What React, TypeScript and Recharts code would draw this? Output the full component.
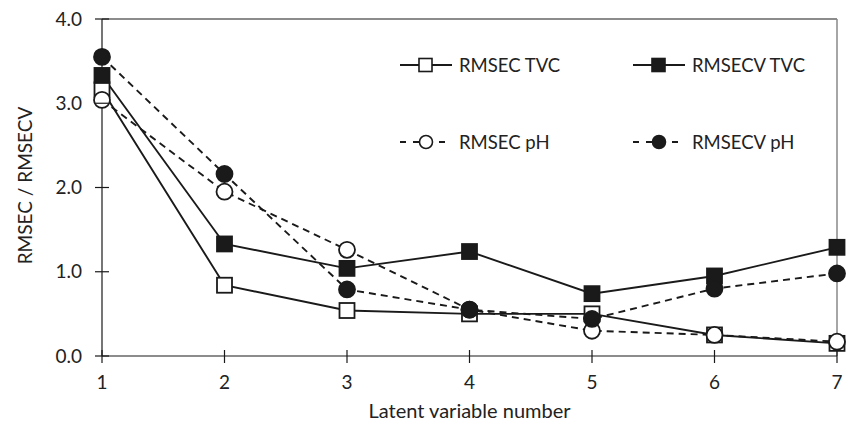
import React from 'react';
import { LineChart, Line, XAxis, YAxis, ReferenceLine } from 'recharts';

const latentVariables = [1, 2, 3, 4, 5, 6, 7];
const rmsecTVC = [3.16, 0.84, 0.54, 0.5, 0.5, 0.25, 0.15];
const rmsecvTVC = [3.33, 1.33, 1.04, 1.24, 0.74, 0.95, 1.29];
const rmsecPH = [3.04, 1.95, 1.26, 0.55, 0.3, 0.25, 0.17];
const rmsecvPH = [3.55, 2.16, 0.79, 0.55, 0.44, 0.8, 0.98];
const yTicks = [0, 1, 2, 3, 4];

const data = latentVariables.map((lv, i) => ({
  lv,
  rmsecTVC: rmsecTVC[i],
  rmsecvTVC: rmsecvTVC[i],
  rmsecPH: rmsecPH[i],
  rmsecvPH: rmsecvPH[i],
}));

const FONT = 'Lato, "Open Sans", sans-serif';
const INK = '#1a1a1a';
const TXT = '#222';

const SquareDot = (filled: boolean) => (props: any) => {
  const { cx, cy } = props;
  if (cx == null || cy == null) return null;
  const s = 15;
  return (
    <rect x={cx - s / 2} y={cy - s / 2} width={s} height={s}
      fill={filled ? INK : '#fff'} stroke={INK} strokeWidth={1.8} />
  );
};

const CircleDot = (filled: boolean) => (props: any) => {
  const { cx, cy } = props;
  if (cx == null || cy == null) return null;
  return <circle cx={cx} cy={cy} r={8} fill={filled ? INK : '#fff'} stroke={INK} strokeWidth={1.8} />;
};

const YTick = (props: any) => {
  const { x, y, payload } = props;
  return (
    <g>
      <line x1={x - 7} x2={x + 7} y1={y} y2={y} stroke={INK} strokeWidth={1.2} />
      <text x={x - 20} y={y} dy="0.35em" textAnchor="end" fontSize={19} fill={TXT} fontFamily={FONT}>
        {payload.value.toFixed(1)}
      </text>
    </g>
  );
};

const XTick = (props: any) => {
  const { x, y, payload } = props;
  return (
    <g>
      <line x1={x} x2={x} y1={y - 6} y2={y + 7} stroke={INK} strokeWidth={1.2} />
      <text x={x} y={y + 26} dy="0.35em" textAnchor="middle" fontSize={19} fill={TXT} fontFamily={FONT}>
        {payload.value}
      </text>
    </g>
  );
};

const legendItems = [
  { name: 'RMSEC TVC', dash: false, shape: 'square', filled: false },
  { name: 'RMSECV TVC', dash: false, shape: 'square', filled: true },
  { name: 'RMSEC pH', dash: true, shape: 'circle', filled: false },
  { name: 'RMSECV pH', dash: true, shape: 'circle', filled: true },
];

const LegendIcon = ({ dash, shape, filled }: any) => (
  <svg width={54} height={16} style={{ marginRight: 6, flex: 'none' }}>
    <line x1={1} x2={53} y1={8} y2={8} stroke={INK} strokeWidth={1.8} strokeDasharray={dash ? '6 7' : undefined} />
    {shape === 'square' ? (
      <rect x={20} y={1.5} width={13} height={13} fill={filled ? INK : '#fff'} stroke={INK} strokeWidth={1.6} />
    ) : (
      <circle cx={27} cy={8} r={6.5} fill={filled ? INK : '#fff'} stroke={INK} strokeWidth={1.6} />
    )}
  </svg>
);

const CustomLegend = () => (
  <div style={{
    position: 'absolute', left: 399, top: 56, display: 'grid',
    gridTemplateColumns: '233px 190px', rowGap: 59, fontFamily: FONT, fontSize: 18.5, color: TXT,
    lineHeight: '18px',
  }}>
    {legendItems.map((it) => (
      <div key={it.name} style={{ display: 'flex', alignItems: 'center', height: 18, whiteSpace: 'nowrap' }}>
        <LegendIcon {...it} />
        <span>{it.name}</span>
      </div>
    ))}
  </div>
);

export default function App() {
  return (
    <div style={{ position: 'absolute', left: 0, top: 0, width: 850, height: 431, background: '#fff' }}>
      <LineChart width={850} height={431} data={data} margin={{ top: 19, right: 13, bottom: 0, left: 0 }}>
        <XAxis
          dataKey="lv"
          type="number"
          domain={[1, 7]}
          ticks={latentVariables}
          height={75}
          axisLine={{ stroke: INK, strokeWidth: 1.2 }}
          tickLine={false}
          tick={<XTick />}
          tickSize={0}
          tickMargin={0}
          label={{
            content: (p: any) => {
              const vb = p.viewBox;
              const cx = vb.x + vb.width / 2;
              return (
                <text x={cx} y={411} dy="0.35em" textAnchor="middle" fontSize={20} fontFamily={FONT} fill={TXT}>
                  Latent variable number
                </text>
              );
            },
          }}
        />
        <YAxis
          type="number"
          domain={[0, 4]}
          ticks={yTicks}
          width={102}
          axisLine={{ stroke: INK, strokeWidth: 1.2 }}
          tickLine={false}
          tick={<YTick />}
          tickSize={0}
          tickMargin={0}
          label={{
            content: (p: any) => {
              const vb = p.viewBox;
              const cx = 25;
              const cy = vb.y + vb.height / 2 - 2;
              return (
                <text x={cx} y={cy} transform={`rotate(-90, ${cx}, ${cy})`} textAnchor="middle" dy="0.35em"
                  fontSize={19} fontFamily={FONT} fill={TXT}>
                  RMSEC / RMSECV
                </text>
              );
            },
          }}
        />
        <ReferenceLine y={4} stroke="#666" strokeWidth={1.5} />
        <ReferenceLine x={7} stroke="#888" strokeWidth={1.5} />
        <Line type="linear" dataKey="rmsecTVC" stroke={INK} strokeWidth={1.9} dot={SquareDot(false)} isAnimationActive={false} />
        <Line type="linear" dataKey="rmsecvTVC" stroke={INK} strokeWidth={1.9} dot={SquareDot(true)} isAnimationActive={false} />
        <Line type="linear" dataKey="rmsecPH" stroke={INK} strokeWidth={1.9} strokeDasharray="7 5" dot={CircleDot(false)} isAnimationActive={false} />
        <Line type="linear" dataKey="rmsecvPH" stroke={INK} strokeWidth={1.9} strokeDasharray="7 5" dot={CircleDot(true)} isAnimationActive={false} />
      </LineChart>
      <CustomLegend />
    </div>
  );
}
